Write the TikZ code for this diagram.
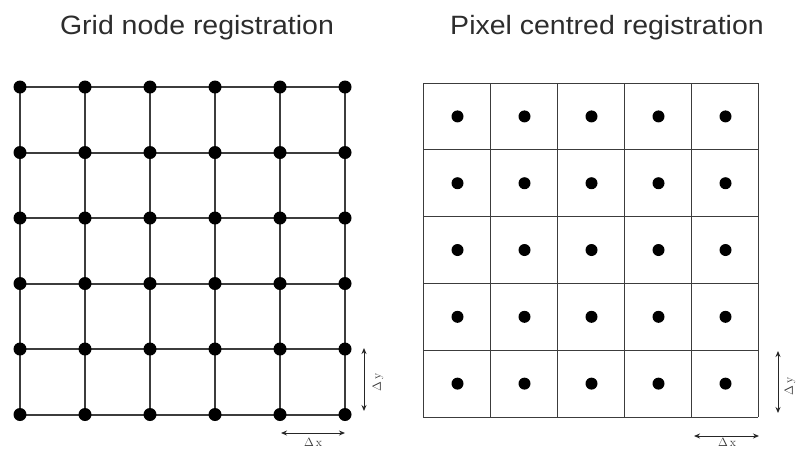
\documentclass[tikz,border=0pt]{standalone}
\usepackage{fontspec}
\setsansfont{Liberation Sans}
\usetikzlibrary{arrows.meta}
\definecolor{gridline}{RGB}{60,60,60}
\definecolor{titlegray}{RGB}{45,45,45}
\tikzset{
  title/.style={font=\sffamily\fontsize{26.5}{30}\selectfont, text=titlegray, inner sep=0pt, anchor=base, xscale=1.075},
  nodeline/.style={draw=gridline, line width=2pt},
  cellline/.style={draw=gridline, line width=1pt},
  gdot/.style={circle, fill=black, minimum size=13pt, inner sep=0pt},
  pdot/.style={circle, fill=black, minimum size=12pt, inner sep=0pt},
  spacing/.style={{Stealth[length=6pt,width=5pt]}-{Stealth[length=6pt,width=5pt]}, line width=1pt, draw=black!85},
  dlabel/.style={font=\fontsize{12}{14}\selectfont, text=black!80, inner sep=0pt}
}
\begin{document}
\begin{tikzpicture}[x=1pt, y=-1pt]
  \useasboundingbox (0,0) rectangle (797,448);

  % titles
  \node[title] (t1) at (197,34.5) {Grid node registration};
  \node[title] (t2) at (607,34.5) {Pixel centred registration};

  % grid node registration: lines through the nodes
  \foreach \i in {0,...,5} {
    \draw[nodeline] (20+65*\i,87) -- (20+65*\i,414.5);
    \draw[nodeline] (20,87+65.5*\i) -- (345,87+65.5*\i);
  }
  \foreach \i in {0,...,5} {
    \foreach \j in {0,...,5} {
      \node[gdot] (g\i\j) at (20+65*\i,87+65.5*\j) {};
    }
  }

  % spacing markers, grid node
  \coordinate (gya) at (364,348);
  \coordinate (gyb) at (364,411);
  \draw[spacing] (gya) -- (gyb);
  \node[dlabel, rotate=90] (gyl) at (378,382) {$\Delta$\,y};
  \coordinate (gxa) at (281,433);
  \coordinate (gxb) at (345,433);
  \draw[spacing] (gxa) -- (gxb);
  \node[dlabel] (gxl) at (313,442) {$\Delta$\,x};

  % pixel centred registration: cells with a point at each centre
  \foreach \i in {0,...,5} {
    \draw[cellline] (423+67*\i,83) -- (423+67*\i,417);
    \draw[cellline] (423,83+66.8*\i) -- (758,83+66.8*\i);
  }
  \foreach \i in {0,...,4} {
    \foreach \j in {0,...,4} {
      \node[pdot] (p\i\j) at (457.5+67*\i,116.4+66.8*\j) {};
    }
  }

  % spacing markers, pixel centred
  \coordinate (pya) at (778,351);
  \coordinate (pyb) at (778,413);
  \draw[spacing] (pya) -- (pyb);
  \node[dlabel, rotate=90] (pyl) at (790,386) {$\Delta$\,y};
  \coordinate (pxa) at (694,436);
  \coordinate (pxb) at (759,436);
  \draw[spacing] (pxa) -- (pxb);
  \node[dlabel] (pxl) at (727,442.5) {$\Delta$\,x};
\end{tikzpicture}
\end{document}
